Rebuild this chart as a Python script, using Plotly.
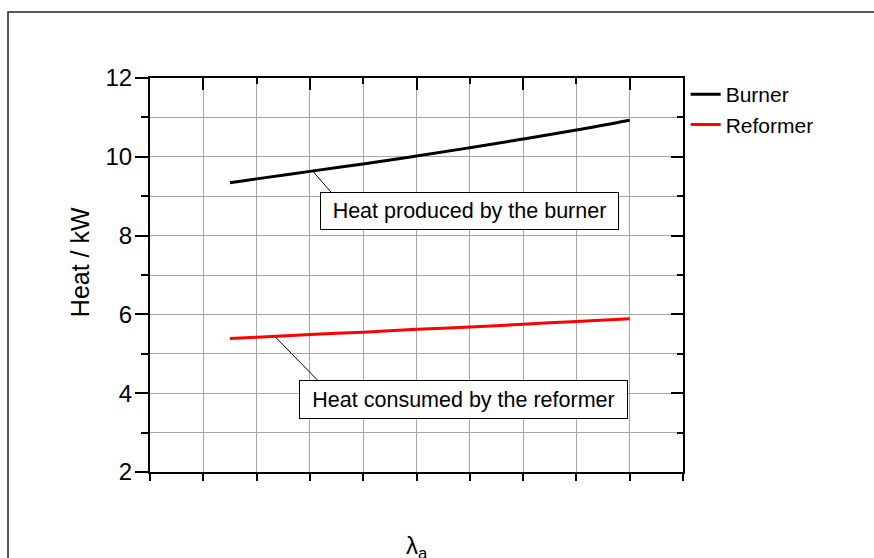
import plotly.graph_objects as go

# ---- data ----
lam = [1.3, 1.4, 1.6, 1.8, 2.0, 2.2, 2.4, 2.6, 2.8]
burner = [9.34, 9.44, 9.63, 9.82, 10.02, 10.23, 10.45, 10.68, 10.93]
reformer = [5.39, 5.42, 5.49, 5.55, 5.62, 5.68, 5.75, 5.82, 5.89]
series_names = ["Burner", "Reformer"]
series_colors = ["#000000", "#ff0000"]

x_range = [1.0, 3.0]
y_range = [2, 12]

# annotation labels: (text, box centre x, box centre y, box width, box height)
label_texts = ["Heat produced by the burner", "Heat consumed by the reformer"]
label_x = [2.197, 2.176]
label_y = [8.62, 3.835]
label_w = [295, 325]
label_h = [34, 35]
# leader lines: point on curve -> box edge
leader_x0 = [1.61, 1.47]
leader_y0 = [9.64, 5.43]
leader_x1 = [1.685, 1.63]
leader_y1 = [9.06, 4.32]

FONT = "Arial, Liberation Sans, sans-serif"

fig = go.Figure()
for name, ys, col in zip(series_names, [burner, reformer], series_colors):
    fig.add_trace(go.Scatter(x=lam, y=ys, mode="lines", name=name,
                             line=dict(color=col, width=3), line_shape="spline"))
# invisible trace for secondary (mirror) axes
fig.add_trace(go.Scatter(x=x_range, y=y_range, xaxis="x2", yaxis="y2", mode="markers",
                         marker=dict(opacity=0), showlegend=False, hoverinfo="skip"))

grid = "#a6a6a6"
fig.update_layout(
    width=874, height=558, autosize=False,
    margin=dict(l=150, r=191, t=78, b=86, pad=0),
    paper_bgcolor="white", plot_bgcolor="white",
    font=dict(family=FONT, color="black", size=20),
    xaxis=dict(range=x_range, tick0=1.0, dtick=0.2, showgrid=True, gridcolor=grid, gridwidth=1,
               ticks="outside", ticklen=7, tickwidth=2, tickcolor="black",
               showline=True, linewidth=2, linecolor="black", showticklabels=False,
               zeroline=False),
    xaxis2=dict(range=x_range, overlaying="x", side="top", tick0=1.2, dtick=0.4,
                ticks="inside", ticklen=12, tickwidth=2, tickcolor="black",
                minor=dict(dtick=0.2, tick0=1.0, ticks="inside", ticklen=6, tickwidth=2,
                           tickcolor="black", showgrid=False),
                showline=True, linewidth=2, linecolor="black", showgrid=False,
                showticklabels=False, zeroline=False),
    yaxis=dict(range=y_range, tick0=2, dtick=2, showgrid=True, gridcolor=grid, gridwidth=1,
               ticks="outside", ticklen=13, tickwidth=2, tickcolor="black",
               minor=dict(dtick=1, tick0=2, ticks="outside", ticklen=7, tickwidth=2,
                          tickcolor="black", showgrid=True, gridcolor=grid, gridwidth=1),
               showline=True, linewidth=2, linecolor="black", zeroline=False,
               ticklabelstandoff=-2,
               tickfont=dict(size=24, family=FONT)),
    yaxis2=dict(range=y_range, overlaying="y", side="right", tick0=2, dtick=2,
                ticks="inside", ticklen=12, tickwidth=2, tickcolor="black",
                minor=dict(dtick=1, tick0=2, ticks="inside", ticklen=6, tickwidth=2,
                           tickcolor="black", showgrid=False),
                showline=True, linewidth=2, linecolor="black", showgrid=False,
                showticklabels=False, zeroline=False),
    legend=dict(x=1.005, y=1.01, xanchor="left", yanchor="top",
                font=dict(size=21, family=FONT), bgcolor="rgba(0,0,0,0)",
                tracegroupgap=0),
    showlegend=True,
)

# outer frame: only its left and top edges fall inside the picture
fig.add_shape(type="path", xref="paper", yref="paper",
              path="M -0.2664,-0.25 L -0.2664,1.1675 L 1.4,1.1675",
              line=dict(color="#222222", width=1.5), fillcolor="rgba(0,0,0,0)", layer="above")

# leader lines
for a, b, c, d in zip(leader_x0, leader_y0, leader_x1, leader_y1):
    fig.add_shape(type="line", xref="x", yref="y", x0=a, y0=b, x1=c, y1=d,
                  line=dict(color="black", width=1))

# labelled boxes
for t, xx, yy, w, h in zip(label_texts, label_x, label_y, label_w, label_h):
    fig.add_annotation(x=xx, y=yy, xref="x", yref="y", text=t, showarrow=False,
                       width=w, height=h, align="center", valign="middle",
                       bgcolor="white", bordercolor="black", borderwidth=1,
                       font=dict(size=21.5, family=FONT))

# axis titles
fig.add_annotation(x=-0.131, y=0.533, xref="paper", yref="paper", text="Heat / kW",
                   textangle=-90, showarrow=False, xanchor="center", yanchor="middle",
                   font=dict(size=25, family=FONT))
fig.add_annotation(x=0.5, y=-0.147, xref="paper", yref="paper", text="λ<sub>a</sub>",
                   showarrow=False, xanchor="center", yanchor="top",
                   font=dict(size=24, family=FONT))

fig.write_html("out.html",
               post_script="document.documentElement.style.overflow='hidden';"
                           "document.body.style.overflow='hidden';document.body.style.margin='0';")
